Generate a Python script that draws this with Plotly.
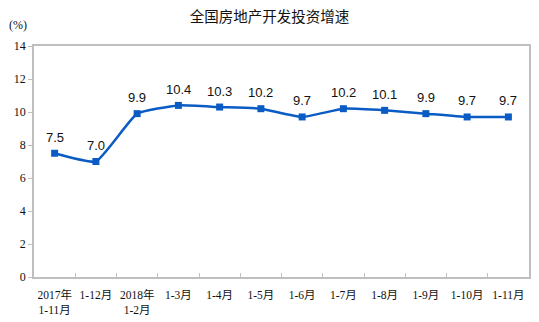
import plotly.graph_objects as go

categories = ["2017年<br>1-11月", "1-12月", "2018年<br>1-2月", "1-3月", "1-4月", "1-5月",
              "1-6月", "1-7月", "1-8月", "1-9月", "1-10月", "1-11月"]
growth = [7.5, 7.0, 9.9, 10.4, 10.3, 10.2, 9.7, 10.2, 10.1, 9.9, 9.7, 9.7]
y_ticks = [0, 2, 4, 6, 8, 10, 12, 14]

line_color = "#0A5CC4"
axis_color = "#BFBFBF"

fig = go.Figure()
fig.add_trace(go.Scatter(
    x=categories, y=growth,
    mode="lines+markers",
    line=dict(color=line_color, width=2.5, shape="spline", smoothing=0.4),
    marker=dict(symbol="square", size=7, color=line_color),
    cliponaxis=False,
    hoverinfo="skip",
))

# value labels above each point
value_labels = [dict(x=c, y=v, text=f"{v:.1f}", showarrow=False, yshift=16,
                     xanchor="center", yanchor="middle",
                     font=dict(family="Arial, Liberation Sans", size=13, color="#111111"))
                for c, v in zip(categories, growth)]

fig.update_layout(
    width=539, height=322,
    margin=dict(l=34, r=10, t=46, b=45),
    paper_bgcolor="white", plot_bgcolor="white",
    showlegend=False,
    title=dict(text="全国房地产开发投资增速", x=0.5, xanchor="center", y=0.947, yanchor="middle",
               font=dict(family="Noto Sans CJK SC", size=14.5, color="#111111")),
    xaxis=dict(
        type="category", tickson="boundaries", ticks="inside", ticklen=4,
        tickcolor=axis_color, showline=True, linecolor=axis_color, linewidth=1.5, mirror=True,
        showgrid=False, tickangle=0, ticklabelstandoff=6, automargin=False,
        tickfont=dict(family="Liberation Serif, Noto Sans CJK SC", size=11.5, color="#111111"),
        range=[-0.5, len(categories) - 0.5],
    ),
    yaxis=dict(
        range=[0, 14], tickvals=y_ticks, ticks="outside", ticklen=4, tickcolor=axis_color,
        showline=True, linecolor=axis_color, linewidth=1.5, mirror=True, showgrid=False,
        zeroline=False, automargin=False,
        tickfont=dict(family="Liberation Serif", size=12, color="#111111"),
    ),
    annotations=value_labels + [
        dict(text="(%)", xref="paper", yref="paper", x=-0.055, y=1.092,
             xanchor="left", yanchor="middle", showarrow=False,
             font=dict(family="Liberation Serif", size=12, color="#111111"))],
)

fig.write_html("out.html")
